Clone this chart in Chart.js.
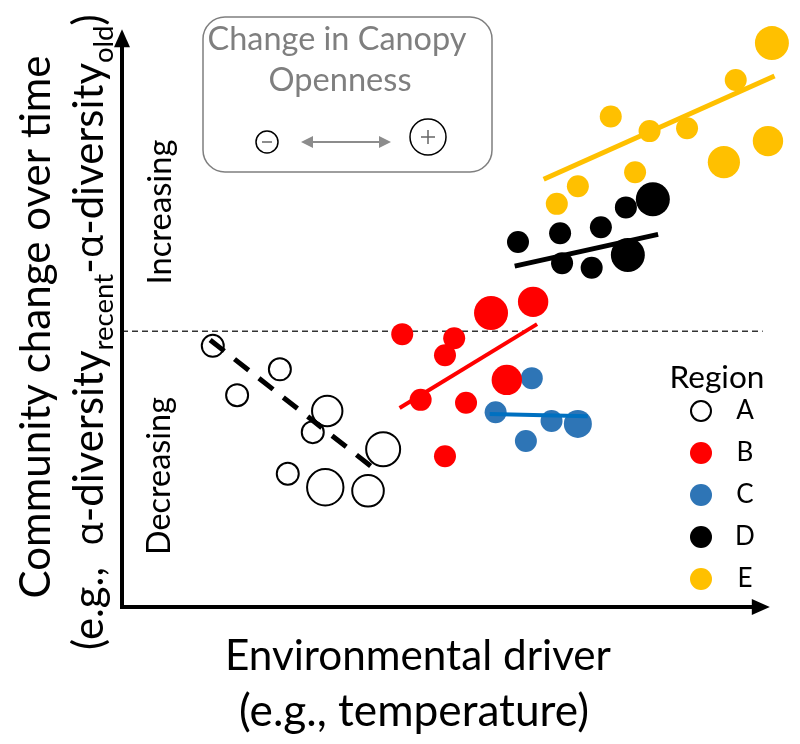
<!DOCTYPE html>
<html>
<head>
<meta charset="utf-8">
<script src="https://cdn.jsdelivr.net/npm/chart.js@4.4.1/dist/chart.umd.min.js"></script>
<style>
  html, body { margin: 0; padding: 0; background: #fff; }
  #wrap { width: 800px; height: 744px; }
</style>
</head>
<body>
<div id="wrap"><canvas id="chart"></canvas></div>
<script>
// environmental driver (x), community change (y), change in canopy openness (size)
const regionAx = [13.8, 24.0, 17.5, 31.2, 29.0, 39.7, 25.2, 30.9, 37.4];
const regionAy = [44.5, 40.5, 36.1, 33.4, 29.8, 26.9, 22.7, 20.4, 19.8];
const regionAc = [1, 1, 1, 1.7, 1, 2.0, 1, 2.2, 1.8];

const regionBx = [42.6, 50.5, 49.1, 56.1, 62.5, 58.5, 45.4, 52.3, 49.1];
const regionBy = [46.5, 45.8, 42.9, 50.1, 52.0, 38.7, 35.3, 34.8, 25.7];
const regionBc = [1, 1, 1, 2.0, 1.7, 1.7, 1, 1, 1];

const regionCx = [62.3, 56.8, 65.3, 69.3, 61.4];
const regionCy = [39.0, 33.2, 31.7, 31.2, 28.3];
const regionCc = [1, 1, 1, 1.5, 1];

const regionDx = [60.2, 66.6, 72.8, 76.6, 80.7, 66.9, 71.4, 76.9];
const regionDy = [62.2, 63.7, 64.7, 68.1, 69.5, 58.6, 57.8, 60.0];
const regionDc = [1, 1, 1, 1, 2.0, 1, 1, 2.0];

const regionEx = [66.1, 69.3, 78.0, 74.3, 80.2, 85.9, 93.3, 91.5, 98.2, 98.8];
const regionEy = [68.7, 71.7, 74.1, 83.6, 81.1, 81.6, 89.8, 75.8, 79.4, 96.1];
const regionEc = [1, 1, 1, 1, 1, 1, 1, 1.85, 1.7, 2.0];

// fitted trend lines (start, end)
const fitAx = [13.4, 39.2], fitAy = [45.5, 22.8];
const fitBx = [42.2, 63.1], fitBy = [33.9, 48.2];
const fitCx = [55.9, 70.8], fitCy = [32.9, 32.5];
const fitDx = [59.7, 81.5], fitDy = [58.1, 63.5];
const fitEx = [64.1, 99.2], fitEy = [72.9, 90.5];

// no change reference
const zeroLineX = [0, 97.4];
const zeroLineY = [47, 47];

const regionNames = ['A', 'B', 'C', 'D', 'E'];

const FONT = 'Lato, "Open Sans", sans-serif';
const GREEK = '"Open Sans", "Noto Sans", sans-serif';

function bubbles(xs, ys, cs) {
    return xs.map((x, i) => ({ x: x, y: ys[i], r: 5 + 6 * cs[i] }));
}
function pts(xs, ys) {
    return xs.map((x, i) => ({ x: x, y: ys[i] }));
}

const regions = [
    { name: regionNames[0], data: bubbles(regionAx, regionAy, regionAc), fill: '#ffffff', edge: '#000000', bw: 2 },
    { name: regionNames[1], data: bubbles(regionBx, regionBy, regionBc), fill: '#ff0000', edge: '#ff0000', bw: 0 },
    { name: regionNames[2], data: bubbles(regionCx, regionCy, regionCc), fill: '#2e75b6', edge: '#2e75b6', bw: 0 },
    { name: regionNames[3], data: bubbles(regionDx, regionDy, regionDc), fill: '#000000', edge: '#000000', bw: 0 },
    { name: regionNames[4], data: bubbles(regionEx, regionEy, regionEc), fill: '#ffc000', edge: '#ffc000', bw: 0 }
];

const fits = [
    { data: pts(fitAx, fitAy), color: '#000000', width: 5, dash: [18, 13] },
    { data: pts(fitBx, fitBy), color: '#ff0000', width: 4, dash: [] },
    { data: pts(fitCx, fitCy), color: '#0070c0', width: 4, dash: [] },
    { data: pts(fitDx, fitDy), color: '#000000', width: 5, dash: [] },
    { data: pts(fitEx, fitEy), color: '#ffc000', width: 5, dash: [] }
];

const datasets = [];
datasets.push({
    type: 'line', data: pts(zeroLineX, zeroLineY), borderColor: '#333333',
    borderWidth: 1.5, borderDash: [6, 4], pointRadius: 0, order: 3, clip: false
});
regions.forEach(r => datasets.push({
    type: 'bubble', label: r.name, data: r.data, backgroundColor: r.fill,
    borderColor: r.edge, borderWidth: r.bw, hoverRadius: 0, order: 2, clip: false
}));
fits.forEach(f => datasets.push({
    type: 'line', data: f.data, borderColor: f.color, borderWidth: f.width,
    borderDash: f.dash, borderCapStyle: 'butt', pointRadius: 0, order: 1, clip: false
}));

function fitSize(ctx, text, width) {
    ctx.font = '100px ' + FONT;
    return 100 * width / ctx.measureText(text).width;
}

function textAt(ctx, text, cx, cy, width, color, rotate) {
    const size = fitSize(ctx, text, width);
    ctx.save();
    ctx.translate(cx, cy);
    if (rotate) ctx.rotate(-Math.PI / 2);
    ctx.font = size + 'px ' + FONT;
    ctx.fillStyle = color || '#000';
    ctx.textAlign = 'center';
    ctx.textBaseline = 'middle';
    ctx.fillText(text, 0, 0);
    ctx.restore();
}

function arrowHead(ctx, x, y, ang, len, half) {
    ctx.beginPath();
    ctx.moveTo(x, y);
    ctx.lineTo(x - len * Math.cos(ang) + half * Math.sin(ang), y - len * Math.sin(ang) - half * Math.cos(ang));
    ctx.lineTo(x - len * Math.cos(ang) - half * Math.sin(ang), y - len * Math.sin(ang) + half * Math.cos(ang));
    ctx.closePath();
    ctx.fill();
}

const decor = {
    id: 'decor',
    afterDraw(chart) {
        const ctx = chart.ctx;
        const ca = chart.chartArea;

        // axes with arrows
        ctx.save();
        ctx.strokeStyle = '#000';
        ctx.fillStyle = '#000';
        ctx.lineWidth = 4;
        ctx.beginPath();
        ctx.moveTo(ca.left, ca.top + 24);
        ctx.lineTo(ca.left, ca.bottom);
        ctx.lineTo(ca.right - 26, ca.bottom);
        ctx.stroke();
        arrowHead(ctx, ca.left, ca.top + 9, -Math.PI / 2, 18, 8);
        arrowHead(ctx, ca.right - 10, ca.bottom, 0, 18, 8);
        ctx.restore();

        // axis titles
        textAt(ctx, 'Environmental driver', 418, 656, 386);
        textAt(ctx, '(e.g., temperature)', 414, 712, 350);
        textAt(ctx, 'Community change over time', 36, 327, 543, '#000', true);

        // second y title line with subscripts: [text, subscript?, greek?]
        const parts = [['(e.g.,  ', 0, 0], ['\u03b1', 0, 1], ['-diversity', 0, 0], ['recent', 1, 0],
                       ['-', 0, 0], ['\u03b1', 0, 1], ['-diversity', 0, 0], ['old', 1, 0], [')', 0, 0]];
        const fontOf = (p, b) => (p[1] ? b * 0.66 : b) + 'px ' + (p[2] ? GREEK : FONT);
        let base = 100, total = 0;
        parts.forEach(p => {
            ctx.font = fontOf(p, base);
            total += ctx.measureText(p[0]).width;
        });
        base = base * 640 / total;
        ctx.save();
        ctx.translate(90, 330);
        ctx.rotate(-Math.PI / 2);
        ctx.fillStyle = '#000';
        ctx.textBaseline = 'alphabetic';
        let pos = -640 / 2;
        parts.forEach(p => {
            ctx.font = fontOf(p, p[2] ? base * 0.92 : base);
            ctx.fillText(p[0], pos, p[1] ? base * 0.55 : base * 0.3);
            pos += ctx.measureText(p[0]).width;
        });
        ctx.restore();

        textAt(ctx, 'Increasing', 160, 212, 145, '#000', true);
        textAt(ctx, 'Decreasing', 160, 476, 158, '#000', true);

        // canopy openness key
        ctx.save();
        ctx.strokeStyle = '#7f7f7f';
        ctx.lineWidth = 1.5;
        ctx.beginPath();
        ctx.roundRect(203, 17, 289, 155, 22);
        ctx.stroke();
        ctx.restore();
        textAt(ctx, 'Change in Canopy', 337, 40, 259, '#7f7f7f');
        textAt(ctx, 'Openness', 340, 80, 143, '#7f7f7f');

        ctx.save();
        ctx.strokeStyle = '#000';
        ctx.lineWidth = 1.5;
        ctx.beginPath(); ctx.arc(267, 142, 11, 0, Math.PI * 2); ctx.stroke();
        ctx.beginPath(); ctx.arc(428, 137, 18, 0, Math.PI * 2); ctx.stroke();
        ctx.strokeStyle = '#666';
        ctx.lineWidth = 1.5;
        ctx.beginPath(); ctx.moveTo(262, 142); ctx.lineTo(272, 142); ctx.stroke();
        ctx.beginPath();
        ctx.moveTo(421, 137); ctx.lineTo(435, 137);
        ctx.moveTo(428, 130); ctx.lineTo(428, 144);
        ctx.stroke();
        ctx.strokeStyle = '#8c8c8c';
        ctx.fillStyle = '#8c8c8c';
        ctx.lineWidth = 2;
        ctx.beginPath(); ctx.moveTo(308, 142); ctx.lineTo(384, 142); ctx.stroke();
        arrowHead(ctx, 301, 142, Math.PI, 12, 6);
        arrowHead(ctx, 391, 142, 0, 12, 6);
        ctx.restore();

        // region legend
        textAt(ctx, 'Region', 717, 378, 95);
        regions.forEach((r, i) => {
            const y = 411 + i * 42;
            ctx.save();
            ctx.beginPath();
            ctx.arc(701, y, r.bw ? 10 : 11, 0, Math.PI * 2);
            ctx.fillStyle = r.fill;
            ctx.fill();
            if (r.bw) {
                ctx.lineWidth = r.bw;
                ctx.strokeStyle = r.edge;
                ctx.stroke();
            }
            ctx.restore();
            ctx.save();
            ctx.font = '26px ' + FONT;
            ctx.fillStyle = '#000';
            ctx.textAlign = 'center';
            ctx.textBaseline = 'middle';
            ctx.fillText(r.name, 745, y);
            ctx.restore();
        });
    }
};

const ctx = document.getElementById('chart').getContext('2d');
const chart = new Chart(ctx, {
    type: 'bubble',
    data: { datasets: datasets },
    options: {
        responsive: true,
        maintainAspectRatio: false,
        animation: false,
        layout: { padding: { left: 122, right: 20, top: 20, bottom: 137 } },
        scales: {
            x: { type: 'linear', min: 0, max: 100, display: false },
            y: { type: 'linear', min: 0, max: 100, display: false }
        },
        plugins: {
            legend: { display: false },
            tooltip: { enabled: false }
        }
    },
    plugins: [decor]
});
</script>
</body>
</html>
